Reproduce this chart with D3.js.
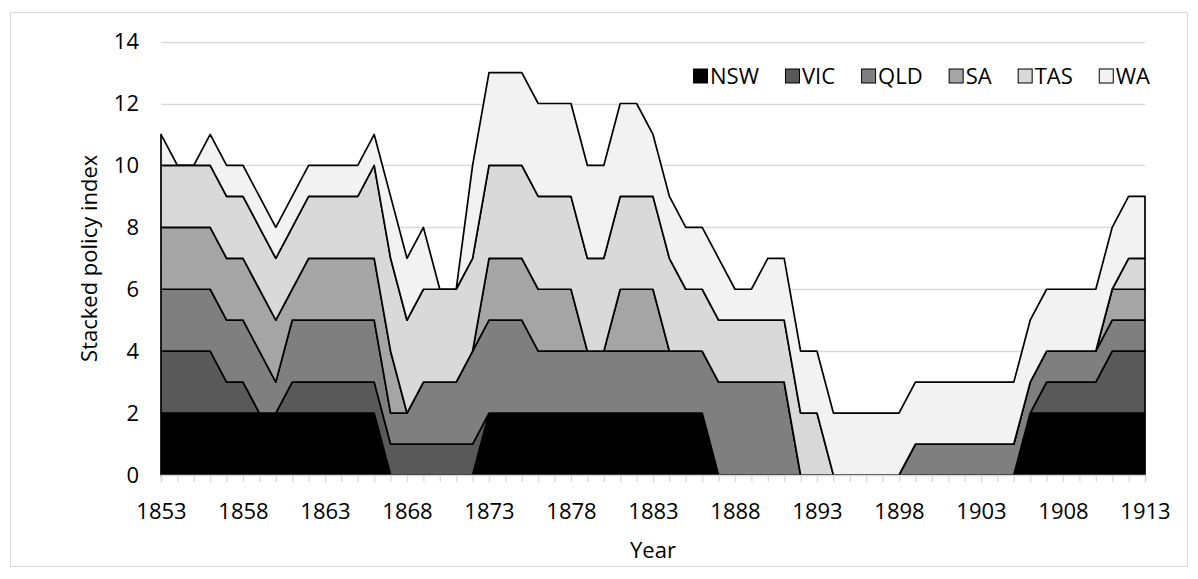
<!DOCTYPE html>
<html>
<head>
<meta charset="utf-8">
<script src="https://cdn.jsdelivr.net/npm/d3@7"></script>
<style>
  html, body { margin: 0; padding: 0; background: #ffffff; }
  svg { display: block; }
  text { font-family: "Open Sans", "Noto Sans", sans-serif; fill: #000; }
</style>
</head>
<body>
<svg id="chart" width="1198" height="579"></svg>
<script>
// ---- data ----
const years = d3.range(1853, 1914);
const seriesNames = ["NSW", "VIC", "QLD", "SA", "TAS", "WA"];
const NSW = [2,2,2,2,2,2,2,2,2,2, 2,2,2,2,0,0,0,0,0,0, 2,2,2,2,2,2,2,2,2,2, 2,2,2,2,0,0,0,0,0,0, 0,0,0,0,0,0,0,0,0,0, 0,0,0,2,2,2,2,2,2,2, 2];
const VIC = [2,2,2,2,1,1,0,0,1,1, 1,1,1,1,1,1,1,1,1,1, 0,0,0,0,0,0,0,0,0,0, 0,0,0,0,0,0,0,0,0,0, 0,0,0,0,0,0,0,0,0,0, 0,0,0,0,1,1,1,1,2,2, 2];
const QLD = [2,2,2,2,2,2,2,1,2,2, 2,2,2,2,1,1,2,2,2,3, 3,3,3,2,2,2,2,2,2,2, 2,2,2,2,3,3,3,3,3,0, 0,0,0,0,0,0,1,1,1,1, 1,1,1,1,1,1,1,1,1,1, 1];
const SA  = [2,2,2,2,2,2,2,2,1,2, 2,2,2,2,2,0,0,0,0,0, 2,2,2,2,2,2,0,0,2,2, 2,0,0,0,0,0,0,0,0,0, 0,0,0,0,0,0,0,0,0,0, 0,0,0,0,0,0,0,0,1,1, 1];
const TAS = [2,2,2,2,2,2,2,2,2,2, 2,2,2,3,3,3,3,3,3,3, 3,3,3,3,3,3,3,3,3,3, 3,3,2,2,2,2,2,2,2,2, 2,0,0,0,0,0,0,0,0,0, 0,0,0,0,0,0,0,0,0,1, 1];
const WA  = [1,0,0,1,1,1,1,1,1,1, 1,1,1,1,2,2,2,0,0,3, 3,3,3,3,3,3,3,3,3,3, 2,2,2,2,2,1,1,2,2,2, 2,2,2,2,2,2,2,2,2,2, 2,2,2,2,2,2,2,2,2,2, 2];
const seriesValues = [NSW, VIC, QLD, SA, TAS, WA];
const seriesColors = ["#000000", "#595959", "#7f7f7f", "#a5a5a5", "#d9d9d9", "#f2f2f2"];
const yTicks = [0, 2, 4, 6, 8, 10, 12, 14];
const xTickLabels = [1853, 1858, 1863, 1868, 1873, 1878, 1883, 1888, 1893, 1898, 1903, 1908, 1913];

// ---- build table ----
const table = years.map((y, i) => {
  const row = { year: y };
  seriesNames.forEach((n, k) => row[n] = seriesValues[k][i]);
  return row;
});

const svg = d3.select("#chart");
const W = 1198, H = 579;
const margin = { left: 161, right: W - 1145, top: 41.6, bottom: H - 475 };
const FS = 22;

// chart frame
svg.append("rect").attr("x", 10.5).attr("y", 12.5).attr("width", 1177).attr("height", 554)
  .attr("fill", "#fff").attr("stroke", "#d9d9d9").attr("stroke-width", 1);

const x = d3.scaleLinear().domain([1853, 1913]).range([margin.left, W - margin.right]);
const y = d3.scaleLinear().domain([0, 14]).range([H - margin.bottom, margin.top]);

// gridlines
svg.append("g").selectAll("line").data(yTicks.filter(d => d > 0)).join("line")
  .attr("x1", x(1853)).attr("x2", x(1913))
  .attr("y1", d => Math.round(y(d)) + 0.5).attr("y2", d => Math.round(y(d)) + 0.5)
  .attr("stroke", "#d9d9d9").attr("stroke-width", 1.3);

// stacked areas
const stack = d3.stack().keys(seriesNames);
const layers = stack(table);
const area = d3.area()
  .x(d => x(d.data.year))
  .y0(d => y(d[0]))
  .y1(d => y(d[1]));

svg.append("g").selectAll("path").data(layers).join("path")
  .attr("d", area)
  .attr("fill", (d, i) => seriesColors[i])
  .attr("stroke", "#000")
  .attr("stroke-width", 1.7)
  .attr("stroke-linejoin", "round");

// x axis
const xAxis = d3.axisBottom(x).tickValues(years).tickSize(7).tickFormat(d => xTickLabels.includes(d) ? d : "");
const gx = svg.append("g").attr("transform", `translate(0,${y(0)})`).call(xAxis);
gx.select(".domain").attr("stroke", "#d9d9d9").attr("stroke-width", 1.5);
gx.selectAll(".tick line").attr("stroke", "#d9d9d9").attr("stroke-width", 1.3);
gx.selectAll(".tick text").attr("font-size", FS).attr("dy", 0).attr("y", 44)
  .style("font-family", "'Open Sans', sans-serif").attr("fill", "#000");

// y axis labels
const yAxis = d3.axisLeft(y).tickValues(yTicks).tickSize(0).tickPadding(22);
const gy = svg.append("g").attr("transform", `translate(${x(1853)},0)`).call(yAxis);
gy.select(".domain").remove();
gy.selectAll(".tick text").attr("font-size", FS).style("font-family", "'Open Sans', sans-serif").attr("fill", "#000");

// axis titles
svg.append("text").attr("x", (x(1853) + x(1913)) / 2).attr("y", 558)
  .attr("text-anchor", "middle").attr("font-size", FS).text("Year");
svg.append("text").attr("transform", `translate(97,${(y(0) + y(14)) / 2}) rotate(-90)`)
  .attr("text-anchor", "middle").attr("font-size", FS).text("Stacked policy index");

// legend
const lg = svg.append("g");
const legStart = 693, legEnd = 1150;
const widths = [];
const groups = seriesNames.map((n, i) => {
  const g = lg.append("g");
  g.append("rect").attr("x", 0.5).attr("y", -7).attr("width", 14).attr("height", 14)
    .attr("fill", seriesColors[i]).attr("stroke", "#000").attr("stroke-width", 1);
  const t = g.append("text").attr("x", 17).attr("y", 8).attr("font-size", FS).text(n);
  widths.push(17 + t.node().getComputedTextLength());
  return g;
});
const gap = (legEnd - legStart - d3.sum(widths)) / (seriesNames.length - 1);
let cx = legStart;
groups.forEach((g, i) => { g.attr("transform", `translate(${cx},76)`); cx += widths[i] + gap; });
</script>
</body>
</html>
